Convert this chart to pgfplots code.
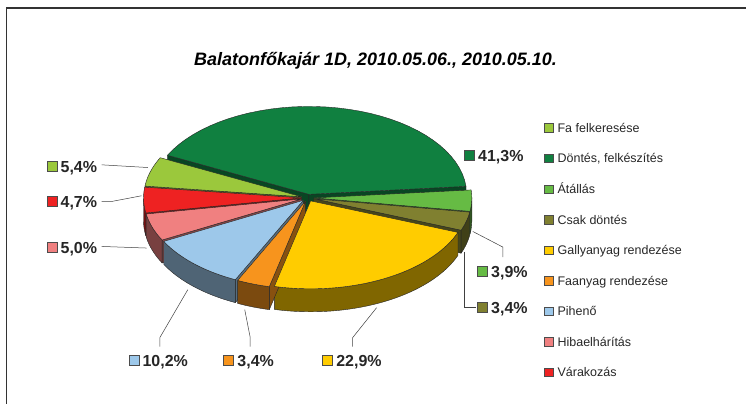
\documentclass[border=0pt]{standalone}
\usepackage{pgfplots}
\pgfplotsset{compat=1.18}
\usepackage{pgfplotstable}
\usepackage{fontspec}
\setmainfont{Liberation Sans}

\definecolor{cFa}{RGB}{155,200,60}
\definecolor{cDontes}{RGB}{16,128,64}
\definecolor{cAtallas}{RGB}{102,187,68}
\definecolor{cCsak}{RGB}{128,128,48}
\definecolor{cGally}{RGB}{255,204,0}
\definecolor{cFaanyag}{RGB}{247,148,29}
\definecolor{cPiheno}{RGB}{157,200,234}
\definecolor{cHiba}{RGB}{240,128,128}
\definecolor{cVarak}{RGB}{238,34,34}

% slice data (clockwise from the start angle); lx, ly = position of the data label (pixels)
\pgfplotstableread[col sep=semicolon]{
label;value;color;lx;ly
Fa felkeresése;5.4;cFa;47;166.5
Döntés, felkészítés;41.3;cDontes;465;155.5
Átállás;3.9;cAtallas;478;272
Csak döntés;3.4;cCsak;478;308
Gallyanyag rendezése;22.9;cGally;323;361
Faanyag rendezése;3.4;cFaanyag;224;361
Pihenő;10.2;cPiheno;129;361
Hibaelhárítás;5.0;cHiba;47;248
Várakozás;4.7;cVarak;47;202
}\piedata

% pie geometry (pixel units, y downwards)
\def\cx{308}\def\cy{198}\def\rx{158}\def\ry{88}\def\dep{23}\def\expl{0.04}\def\nseg{36}
\def\startang{173}

\tikzset{wallstyle/.style={draw=black!85,line width=0.4pt,line join=round}}

\newcommand\addarc[3]{%
  \foreach \k in {0,...,\nseg}{%
    \pgfmathsetmacro\ang{#1+(#2-#1)*\k/\nseg}%
    \pgfmathsetmacro\px{\cx+\ox+\rx*cos(\ang)}%
    \pgfmathsetmacro\py{\cy+\oy-\ry*sin(\ang)+#3}%
    \xdef\pts{\pts(\px,\py)}%
  }}

\newcommand\loadslice[1]{%
  \edef\lo{\csname slo#1\endcsname}\edef\hi{\csname shi#1\endcsname}%
  \xdef\ox{\csname sox#1\endcsname}\xdef\oy{\csname soy#1\endcsname}%
  \edef\col{\csname scol#1\endcsname}%
  \pgfmathsetmacro\ax{\cx+\ox}\pgfmathsetmacro\ay{\cy+\oy}\pgfmathsetmacro\ayb{\cy+\oy+\dep}}

\newcommand\drawwalls[1]{%
  \loadslice{#1}%
  \pgfmathtruncatemacro\flag{cos(\hi)<0}%
  \ifnum\flag=1
    \pgfmathsetmacro\qx{\ax+\rx*cos(\hi)}\pgfmathsetmacro\qy{\ay-\ry*sin(\hi)}\pgfmathsetmacro\qyb{\qy+\dep}%
    \edef\tmp{\noexpand\addplot[wallstyle,fill=\col!55!black] coordinates {(\ax,\ay)(\qx,\qy)(\qx,\qyb)(\ax,\ayb)} -- cycle;}\tmp
  \fi
  \pgfmathtruncatemacro\flag{cos(\lo)>0}%
  \ifnum\flag=1
    \pgfmathsetmacro\qx{\ax+\rx*cos(\lo)}\pgfmathsetmacro\qy{\ay-\ry*sin(\lo)}\pgfmathsetmacro\qyb{\qy+\dep}%
    \edef\tmp{\noexpand\addplot[wallstyle,fill=\col!55!black] coordinates {(\ax,\ay)(\qx,\qy)(\qx,\qyb)(\ax,\ayb)} -- cycle;}\tmp
  \fi
  \pgfmathsetmacro\wa{max(\lo,-180)}\pgfmathsetmacro\wb{min(\hi,0)}%
  \pgfmathtruncatemacro\flag{\wa<\wb}%
  \ifnum\flag=1
    \gdef\pts{}\addarc{\wa}{\wb}{0}\addarc{\wb}{\wa}{\dep}%
    \edef\tmp{\noexpand\addplot[wallstyle,fill=\col!50!black] coordinates {\pts} -- cycle;}\tmp
  \fi}

\newcommand\drawtop[1]{%
  \loadslice{#1}%
  \xdef\pts{(\ax,\ay)}\addarc{\hi}{\lo}{0}%
  \edef\tmp{\noexpand\addplot[wallstyle,fill=\col] coordinates {\pts} -- cycle;}\tmp}

\begin{document}
\begin{tikzpicture}
\pgfplotstablegetrowsof{\piedata}\pgfmathtruncatemacro\nlast{\pgfplotsretval-1}
\def\total{0}
\pgfplotsforeachungrouped \i in {0,...,\nlast}{%
  \pgfplotstablegetelem{\i}{value}\of\piedata
  \pgfmathsetmacro\total{\total+\pgfplotsretval}}
\def\cur{\startang}
\pgfplotsforeachungrouped \i in {0,...,\nlast}{%
  \pgfplotstablegetelem{\i}{value}\of\piedata
  \pgfmathsetmacro\lo{\cur-360*\pgfplotsretval/\total}%
  \pgfmathsetmacro\amid{(\cur+\lo)/2}%
  \pgfmathsetmacro\ox{\expl*\rx*cos(\amid)}%
  \pgfmathsetmacro\oy{-\expl*\ry*sin(\amid)}%
  \expandafter\xdef\csname slo\i\endcsname{\lo}%
  \expandafter\xdef\csname shi\i\endcsname{\cur}%
  \expandafter\xdef\csname sox\i\endcsname{\ox}%
  \expandafter\xdef\csname soy\i\endcsname{\oy}%
  \pgfplotstablegetelem{\i}{color}\of\piedata
  \expandafter\xdef\csname scol\i\endcsname{\pgfplotsretval}%
  \xdef\cur{\lo}}
\path (0,0) rectangle (747pt,404pt);
\begin{axis}[width=747pt,height=404pt,scale only axis,
  xmin=0,xmax=747,ymin=0,ymax=404,y dir=reverse,hide axis,clip=false]
% frame
\addplot[black!80,line width=1.6pt] coordinates {(6.5,404)(6.5,8.2)(747,8.2)};
% walls, back to front
\pgfplotsforeachungrouped \i in {1,0,8,2,3,7,6,4,5}{\drawwalls{\i}}
% top faces
\pgfplotsforeachungrouped \i in {0,...,8}{\drawtop{\i}}
% leader lines
\addplot[black!75,line width=0.5pt] coordinates {(101.7,165)(148,167.7)};
\addplot[black!75,line width=0.5pt] coordinates {(101.7,201.7)(111.7,201.7)(141.7,196)};
\addplot[black!75,line width=0.5pt] coordinates {(101.7,246.7)(146.7,248.3)};
\addplot[black!75,line width=0.5pt] coordinates {(188,290)(160,338)(160,347)};
\addplot[black!75,line width=0.5pt] coordinates {(245,310)(250.5,338)(250.5,347)};
\addplot[black!75,line width=0.5pt] coordinates {(377,308)(353,338)(353,347)};
\addplot[black!75,line width=0.5pt] coordinates {(473.3,231.7)(503.3,247.3)(503.3,257.3)};
\addplot[black!75,line width=0.5pt] coordinates {(464.5,252)(464.5,308)(477,308)};
\end{axis}
\begin{scope}[x=1pt,y=-1pt,yshift=404pt]
\node[anchor=base,inner sep=0,font=\fontsize{18}{21}\selectfont\bfseries\itshape] at (376,65.5) {Balatonfőkajár 1D, 2010.05.06., 2010.05.10.};
\pgfplotsforeachungrouped \i in {0,...,\nlast}{%
  \edef\col{\csname scol\i\endcsname}%
  % legend
  \pgfmathsetmacro\ly{128+30.6*\i}%
  \draw[fill=\col,draw=black!70,line width=0.5pt] (545,{\ly-4.25}) rectangle ++(8.5,8.5);
  \pgfplotstablegetelem{\i}{label}\of\piedata
  \node[anchor=base west,inner sep=0,font=\fontsize{12.5}{15}\selectfont,text=black!85] at (558,{\ly+4.5}) {\pgfplotsretval};
  % data label
  \pgfplotstablegetelem{\i}{lx}\of\piedata \let\dlx\pgfplotsretval
  \pgfplotstablegetelem{\i}{ly}\of\piedata \let\dly\pgfplotsretval
  \draw[fill=\col,draw=black!70,line width=0.6pt] (\dlx,{\dly-5}) rectangle ++(10,10);
  \pgfplotstablegetelem{\i}{value}\of\piedata
  \node[anchor=base west,inner sep=0,font=\fontsize{16}{19}\selectfont\bfseries,text=black!85] at ({\dlx+13.5},{\dly+5.7}) {\pgfmathprintnumber[fixed,precision=1,fixed zerofill,use comma,assume math mode=true]{\pgfplotsretval}\%};
}
\end{scope}
\end{tikzpicture}
\end{document}
